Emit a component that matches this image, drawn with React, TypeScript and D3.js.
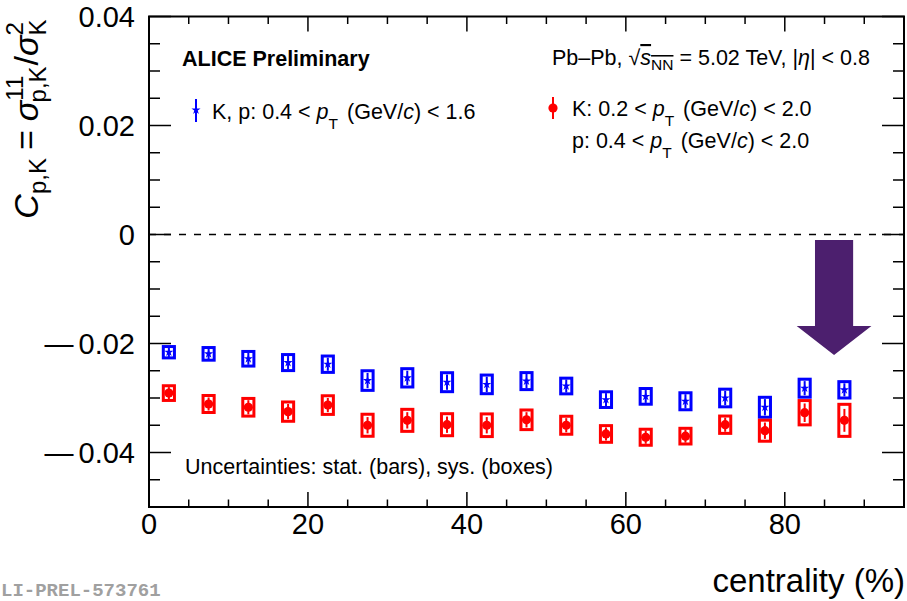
import React from "react";
import * as d3 from "d3";

const centrality = [2.5, 7.5, 12.5, 17.5, 22.5, 27.5, 32.5, 37.5, 42.5, 47.5, 52.5, 57.5, 62.5, 67.5, 72.5, 77.5, 82.5, 87.5];
const blueVal = [-0.0216, -0.0219, -0.0228, -0.0235, -0.0238, -0.0268, -0.0263, -0.0271, -0.0275, -0.0269, -0.0278, -0.0303, -0.0297, -0.0306, -0.03, -0.0317, -0.0282, -0.0285];
const blueSys = [0.00104, 0.00116, 0.00134, 0.00147, 0.0015, 0.0018, 0.00168, 0.00174, 0.00171, 0.00156, 0.00144, 0.00144, 0.00144, 0.00156, 0.00162, 0.00183, 0.00165, 0.0015];
const blueStat = [0.0009, 0.001, 0.0011, 0.0012, 0.0012, 0.0014, 0.0013, 0.0014, 0.0014, 0.0013, 0.0012, 0.0012, 0.0012, 0.0013, 0.0013, 0.0015, 0.0013, 0.0012];
const redVal = [-0.0291, -0.0311, -0.0317, -0.0325, -0.0313, -0.035, -0.0341, -0.0349, -0.035, -0.034, -0.035, -0.0366, -0.0372, -0.037, -0.0349, -0.036, -0.0327, -0.0341];
const redSys = [0.00135, 0.00156, 0.00162, 0.00177, 0.00171, 0.00202, 0.00202, 0.00202, 0.00208, 0.0018, 0.00165, 0.00153, 0.00147, 0.00144, 0.00159, 0.00193, 0.00223, 0.00294];
const redStat = [0.0011, 0.0012, 0.0013, 0.0014, 0.0013, 0.0015, 0.0015, 0.0015, 0.0015, 0.0014, 0.0013, 0.0012, 0.0012, 0.0012, 0.0013, 0.0015, 0.0017, 0.0021];

const xMajorTicks = [0, 20, 40, 60, 80];
const xTickLabels = ["0", "20", "40", "60", "80"];
const yMajorTicks = [0.04, 0.02, 0, -0.02, -0.04];
const yTickLabels = ["0.04", "0.02", "0", "0.02", "0.04"];
const yTickNegative = [false, false, false, true, true];

const FONT = "'Liberation Sans', Arial, Helvetica, sans-serif";
const BLUE = "#0000ff";
const RED = "#ff0000";
const PURPLE = "#4c1f6e";

export default function App() {
  const W = 907, H = 601;
  const x = d3.scaleLinear().domain([0, 95]).range([149, 904]);
  const y = d3.scaleLinear().domain([-0.05, 0.04]).range([507, 16.5]);
  const [x0, x1] = x.range();
  const [y0, y1] = y.range();

  const xMinor = d3.range(0, 95.001, 5).filter((v) => !xMajorTicks.includes(v));
  const yMinor = d3.range(-0.05, 0.04001, 0.005).map((v) => Math.round(v * 1000) / 1000).filter((v) => !yMajorTicks.some((m) => Math.abs(m - v) < 1e-6));

  const halfW = 0.7;
  const star = d3.symbol().type(d3.symbolStar).size(26)();

  const ax = 86.2, aShaft = 2.4, aHead = 4.7;
  const aTop = -0.001, aNeck = -0.0168, aTip = -0.0221;
  const arrowPath = [
    [ax - aShaft, aTop], [ax + aShaft, aTop], [ax + aShaft, aNeck], [ax + aHead, aNeck],
    [ax, aTip], [ax - aHead, aNeck], [ax - aShaft, aNeck],
  ].map((p, i) => `${i ? "L" : "M"}${x(p[0])},${y(p[1])}`).join("") + "Z";

  const fs = 21.5, sfs = 15.5;

  return (
    <svg width={W} height={H} style={{ position: "fixed", left: 0, top: 0, background: "#fff" }} fontFamily={FONT}>
      <rect x={0} y={0} width={W} height={H} fill="#fff" />
      <line x1={x0} x2={x1} y1={y(0)} y2={y(0)} stroke="#000" strokeWidth={1.3} strokeDasharray="7,8" />
      <path d={arrowPath} fill={PURPLE} />

      {centrality.map((c, i) => (
        <rect key={"bs" + i} x={x(c - halfW)} width={x(c + halfW) - x(c - halfW)} y={y(blueVal[i] + blueSys[i])} height={y(blueVal[i] - blueSys[i]) - y(blueVal[i] + blueSys[i])} fill="none" stroke={BLUE} strokeWidth={3} />
      ))}
      {centrality.map((c, i) => (
        <rect key={"rs" + i} x={x(c - halfW)} width={x(c + halfW) - x(c - halfW)} y={y(redVal[i] + redSys[i])} height={y(redVal[i] - redSys[i]) - y(redVal[i] + redSys[i])} fill="none" stroke={RED} strokeWidth={3} />
      ))}
      {centrality.map((c, i) => (
        <g key={"bp" + i}>
          <line x1={x(c)} x2={x(c)} y1={y(blueVal[i] + blueStat[i])} y2={y(blueVal[i] - blueStat[i])} stroke={BLUE} strokeWidth={2} />
          <path d={star} transform={`translate(${x(c)},${y(blueVal[i])})`} fill={BLUE} />
        </g>
      ))}
      {centrality.map((c, i) => (
        <g key={"rp" + i}>
          <line x1={x(c)} x2={x(c)} y1={y(redVal[i] + redStat[i])} y2={y(redVal[i] - redStat[i])} stroke={RED} strokeWidth={2} />
          <circle cx={x(c)} cy={y(redVal[i])} r={4.6} fill={RED} />
        </g>
      ))}

      <rect x={x0} y={y1} width={x1 - x0} height={y0 - y1} fill="none" stroke="#000" strokeWidth={2} />
      {xMajorTicks.map((v) => (
        <g key={"xm" + v}>
          <line x1={x(v)} x2={x(v)} y1={y0} y2={y0 - 15} stroke="#000" strokeWidth={1.5} />
          <line x1={x(v)} x2={x(v)} y1={y1} y2={y1 + 15} stroke="#000" strokeWidth={1.5} />
        </g>
      ))}
      {xMinor.map((v) => (
        <g key={"xn" + v}>
          <line x1={x(v)} x2={x(v)} y1={y0} y2={y0 - 7.5} stroke="#000" strokeWidth={1.5} />
          <line x1={x(v)} x2={x(v)} y1={y1} y2={y1 + 7.5} stroke="#000" strokeWidth={1.5} />
        </g>
      ))}
      {yMajorTicks.map((v) => (
        <g key={"ym" + v}>
          <line x1={x0} x2={x0 + 22} y1={y(v)} y2={y(v)} stroke="#000" strokeWidth={1.5} />
          <line x1={x1} x2={x1 - 22} y1={y(v)} y2={y(v)} stroke="#000" strokeWidth={1.5} />
        </g>
      ))}
      {yMinor.map((v) => (
        <g key={"yn" + v}>
          <line x1={x0} x2={x0 + 11} y1={y(v)} y2={y(v)} stroke="#000" strokeWidth={1.5} />
          <line x1={x1} x2={x1 - 11} y1={y(v)} y2={y(v)} stroke="#000" strokeWidth={1.5} />
        </g>
      ))}
      {xMajorTicks.map((v, i) => (
        <text key={"xl" + v} x={x(v)} y={534} textAnchor="middle" fontSize={29}>{xTickLabels[i]}</text>
      ))}
      {yMajorTicks.map((v, i) => (
        <text key={"yl" + v} x={135} y={y(v) + 10.5} textAnchor="end" fontSize={29}>
          {yTickNegative[i] ? <tspan>—</tspan> : null}
          <tspan dx={yTickNegative[i] ? 5 : 0}>{yTickLabels[i]}</tspan>
        </text>
      ))}

      <text x={905} y={592} textAnchor="end" fontSize={33}>centrality (%)</text>
      <text transform="translate(38,119) rotate(-90)" textAnchor="middle" fontSize={34}>
        <tspan fontStyle="italic">C</tspan>
        <tspan fontSize={24} dy={8}>p,K</tspan>
        <tspan dy={-8} dx={8}>=</tspan>
        <tspan fontStyle="italic" dx={9}>σ</tspan>
        <tspan fontSize={24} dy={-15}>11</tspan>
        <tspan fontSize={24} dx={-26.7} dy={23}>p,K</tspan>
        <tspan dy={-8} dx={1}>/</tspan>
        <tspan fontStyle="italic">σ</tspan>
        <tspan fontSize={24} dy={-15}>2</tspan>
        <tspan fontSize={24} dx={-13.3} dy={23}>K</tspan>
      </text>

      <text x={182} y={66} fontSize={fs} fontWeight="bold">ALICE Preliminary</text>
      <text x={552} y={65} fontSize={fs}>
        <tspan>Pb–Pb, √</tspan>
        <tspan fontStyle="italic" textDecoration="overline">s</tspan>
        <tspan fontSize={sfs} dy={5} textDecoration="overline">NN</tspan>
        <tspan dy={-5}> = 5.02 TeV, |</tspan>
        <tspan fontStyle="italic">η</tspan>
        <tspan>| &lt; 0.8</tspan>
      </text>

      <line x1={196} x2={196} y1={99} y2={122} stroke={BLUE} strokeWidth={2} />
      <path d={star} transform="translate(196,110)" fill={BLUE} />
      <text x={212} y={119} fontSize={fs}>
        <tspan>K, p: 0.4 &lt; </tspan>
        <tspan fontStyle="italic">p</tspan>
        <tspan fontSize={sfs} dy={10}>T</tspan>
        <tspan dy={-10} dx={3}> (GeV/</tspan>
        <tspan fontStyle="italic">c</tspan>
        <tspan>) &lt; 1.6</tspan>
      </text>
      <line x1={553} x2={553} y1={97} y2={119} stroke={RED} strokeWidth={2} />
      <circle cx={553} cy={108} r={4.6} fill={RED} />
      <text x={572} y={116} fontSize={fs}>
        <tspan>K: 0.2 &lt; </tspan>
        <tspan fontStyle="italic">p</tspan>
        <tspan fontSize={sfs} dy={10}>T</tspan>
        <tspan dy={-10} dx={3}> (GeV/</tspan>
        <tspan fontStyle="italic">c</tspan>
        <tspan>) &lt; 2.0</tspan>
      </text>
      <text x={572} y={148} fontSize={fs}>
        <tspan>p: 0.4 &lt; </tspan>
        <tspan fontStyle="italic">p</tspan>
        <tspan fontSize={sfs} dy={10}>T</tspan>
        <tspan dy={-10} dx={3}> (GeV/</tspan>
        <tspan fontStyle="italic">c</tspan>
        <tspan>) &lt; 2.0</tspan>
      </text>

      <text x={185} y={474} fontSize={fs}>Uncertainties: stat. (bars), sys. (boxes)</text>

      <text x={1} y={596} fontSize={19} fontWeight="bold" fill="#a0a0a0" fontFamily="'Liberation Mono', 'DejaVu Sans Mono', monospace">LI-PREL-573761</text>
    </svg>
  );
}
